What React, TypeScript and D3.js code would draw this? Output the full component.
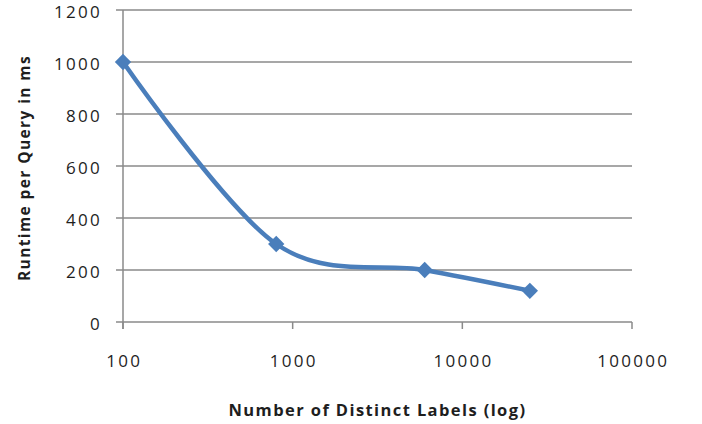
import React, { useEffect, useRef } from 'react';
import * as d3 from 'd3';

// number of distinct labels (x, log scale) and runtime per query in ms (y)
const labelCounts = [100, 800, 6000, 25000];
const runtimes = [1000, 300, 200, 120];

const xTicks = [100, 1000, 10000, 100000];
const xTickLabels = ['100', '1000', '10000', '100000'];
const yTicks = [0, 200, 400, 600, 800, 1000, 1200];

const xTitle = 'Number of Distinct Labels (log)';
const yTitle = 'Runtime per Query in ms';

function App() {
  const ref = useRef<SVGSVGElement>(null);
  const width = 702;
  const height = 424;
  const margin = { top: 10, right: 70, bottom: 102, left: 123 };
  const tickLen = 7;
  const font = '"Open Sans", "Liberation Sans", sans-serif';

  useEffect(() => {
    drawChart();
  }, []);

  function drawChart() {
    const svg = d3.select(ref.current);
    svg.selectAll('*').remove();

    const x = d3
      .scaleLog()
      .domain([100, 100000])
      .range([margin.left, width - margin.right]);
    const y = d3
      .scaleLinear()
      .domain([0, 1200])
      .range([height - margin.bottom, margin.top]);

    const x0 = margin.left;
    const x1 = width - margin.right;
    const yBase = y(0);

    // horizontal gridlines + left ticks
    svg
      .append('g')
      .selectAll('line')
      .data(yTicks)
      .enter()
      .append('line')
      .attr('x1', x0 - tickLen)
      .attr('x2', x1)
      .attr('y1', (d) => y(d))
      .attr('y2', (d) => y(d))
      .style('stroke', '#8a8a8a')
      .style('stroke-width', 1.5);

    // y axis line
    svg
      .append('line')
      .attr('x1', x0)
      .attr('x2', x0)
      .attr('y1', y(1200))
      .attr('y2', yBase + tickLen)
      .style('stroke', '#8a8a8a')
      .style('stroke-width', 1.5);

    // x ticks
    svg
      .append('g')
      .selectAll('line')
      .data(xTicks)
      .enter()
      .append('line')
      .attr('x1', (d) => x(d))
      .attr('x2', (d) => x(d))
      .attr('y1', yBase)
      .attr('y2', yBase + tickLen)
      .style('stroke', '#8a8a8a')
      .style('stroke-width', 1.5);

    // y tick labels
    svg
      .append('g')
      .selectAll('text')
      .data(yTicks)
      .enter()
      .append('text')
      .attr('x', x0 - 21)
      .attr('y', (d) => y(d) + 8)
      .attr('text-anchor', 'end')
      .style('font-family', font)
      .style('font-size', '17px')
      .style('letter-spacing', '2.3px')
      .style('fill', '#1e1e1e')
      .text((d) => String(d));

    // x tick labels
    svg
      .append('g')
      .selectAll('text')
      .data(xTicks)
      .enter()
      .append('text')
      .attr('x', (d) => x(d) + 1.2)
      .attr('y', 367)
      .attr('text-anchor', 'middle')
      .style('font-family', font)
      .style('font-size', '17px')
      .style('letter-spacing', '2.3px')
      .style('fill', '#1e1e1e')
      .text((_, i) => xTickLabels[i]);

    // axis titles
    svg
      .append('text')
      .attr('x', (x0 + x1) / 2)
      .attr('y', 416)
      .attr('text-anchor', 'middle')
      .style('font-family', font)
      .style('font-size', '16.5px')
      .style('font-weight', 'bold')
      .style('letter-spacing', '1.4px')
      .style('fill', '#1e1e1e')
      .text(xTitle);

    svg
      .append('text')
      .attr('transform', `translate(30, ${(y(0) + y(1200)) / 2 + 2}) rotate(-90)`)
      .attr('text-anchor', 'middle')
      .style('font-family', font)
      .style('font-size', '15.5px')
      .style('font-weight', 'bold')
      .style('letter-spacing', '1.4px')
      .style('fill', '#1e1e1e')
      .text(yTitle);

    // smoothed series line (excel-style smoothing)
    const points = labelCounts.map((c, i) => [x(c), y(runtimes[i])] as [number, number]);
    const line = d3.line().curve(d3.curveCardinal.tension(0));

    svg
      .append('path')
      .attr('d', line(points))
      .style('fill', 'none')
      .style('stroke', '#4a7ebb')
      .style('stroke-width', 4.5)
      .style('stroke-linejoin', 'round');

    // diamond markers
    const diamond = d3.symbol().type(d3.symbolDiamond2).size(170);
    svg
      .append('g')
      .selectAll('path')
      .data(points)
      .enter()
      .append('path')
      .attr('d', diamond)
      .attr('transform', (d) => `translate(${d[0]}, ${d[1]})`)
      .style('fill', '#4a7ebb');
  }

  return (
    <svg
      ref={ref}
      width={width}
      height={height}
      style={{ position: 'absolute', left: 0, top: 0, background: '#fff' }}
    />
  );
}

export default App;
